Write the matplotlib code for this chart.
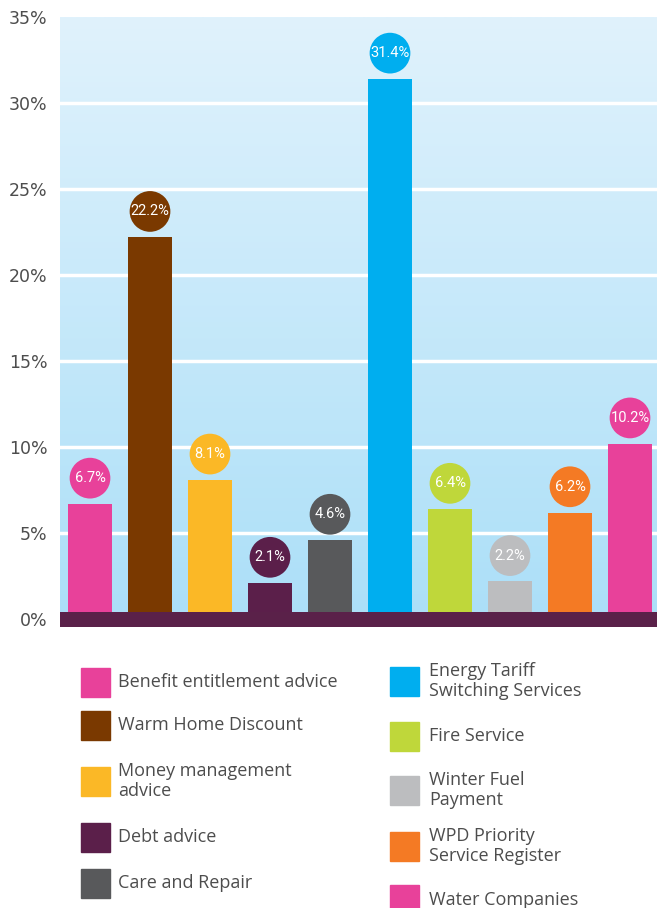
import numpy as np
import matplotlib.pyplot as plt
from matplotlib.colors import LinearSegmentedColormap
from matplotlib.patches import Rectangle

# Data
categories = ['Benefit entitlement advice', 'Warm Home Discount', 'Money management\nadvice',
              'Debt advice', 'Care and Repair', 'Energy Tariff\nSwitching Services', 'Fire Service',
              'Winter Fuel\nPayment', 'WPD Priority\nService Register', 'Water Companies']
values = [6.7, 22.2, 8.1, 2.1, 4.6, 31.4, 6.4, 2.2, 6.2, 10.2]
colors = ['#e8419a', '#7a3900', '#fbb826', '#5b1f4a', '#58595b',
          '#00aeef', '#bfd73a', '#bcbdbf', '#f47a24', '#e8419a']
yticks = [0, 5, 10, 15, 20, 25, 30, 35]

W, H = 657, 908
fig = plt.figure(figsize=(W / 100, H / 100), dpi=100)
ax = fig.add_axes([60 / W, 1 - 627 / H, 597 / W, 610 / H])

xlim = (-0.5, 9.45)
ylim = (-0.45, 35)
ax.set_xlim(*xlim)
ax.set_ylim(*ylim)

# background gradient, light at top, stronger blue at bottom
cmap = LinearSegmentedColormap.from_list('bg', ['#abdff8', '#e0f2fc'])
grad = np.linspace(0, 1, 256).reshape(-1, 1)
ax.imshow(grad, extent=[xlim[0], xlim[1], ylim[0], ylim[1]], origin='lower',
          aspect='auto', cmap=cmap, zorder=0)

# white gridlines
for t in yticks[1:-1]:
    ax.axhline(t, color='white', lw=2.5, zorder=1)

x = np.arange(len(values))
ax.bar(x, values, width=0.733, color=colors, zorder=2)

# dark band along the baseline
ax.axhspan(-0.45, 0.45, color='#5a2149', zorder=3, lw=0)

# circle labels
ax.scatter(x, np.array(values) + 1.5, s=860, c=colors, zorder=4, linewidths=0)
for xi, v in zip(x, values):
    ax.text(xi, v + 1.5, f'{v}%', color='white', ha='center', va='center',
            fontsize=10.5, family='Roboto', zorder=5)

ax.set_xticks([])
ax.set_yticks(yticks)
ax.set_yticklabels([f'{t}%' for t in yticks], fontsize=12.5, color='#4d4d4d')
ax.tick_params(axis='y', length=0, pad=9)
for s in ax.spines.values():
    s.set_visible(False)

# legend in two columns, drawn in pixel positions
left_rows = [682, 725, 781, 837, 883]
right_rows = [681, 736, 790, 846, 900]
for i, (lab, col) in enumerate(zip(categories, colors)):
    if i < 5:
        sx, tx, cy = 81, 118, left_rows[i]
    else:
        sx, tx, cy = 390, 429, right_rows[i - 5]
    fig.patches.append(Rectangle((sx / W, 1 - (cy + 14.5) / H), 29 / W, 29 / H,
                                 transform=fig.transFigure, color=col))
    fig.text(tx / W, 1 - cy / H, lab, fontsize=13, family='Open Sans', color='#4d4d4d',
             va='center', ha='left', linespacing=1.2)

fig.savefig('out.png', dpi=100)
